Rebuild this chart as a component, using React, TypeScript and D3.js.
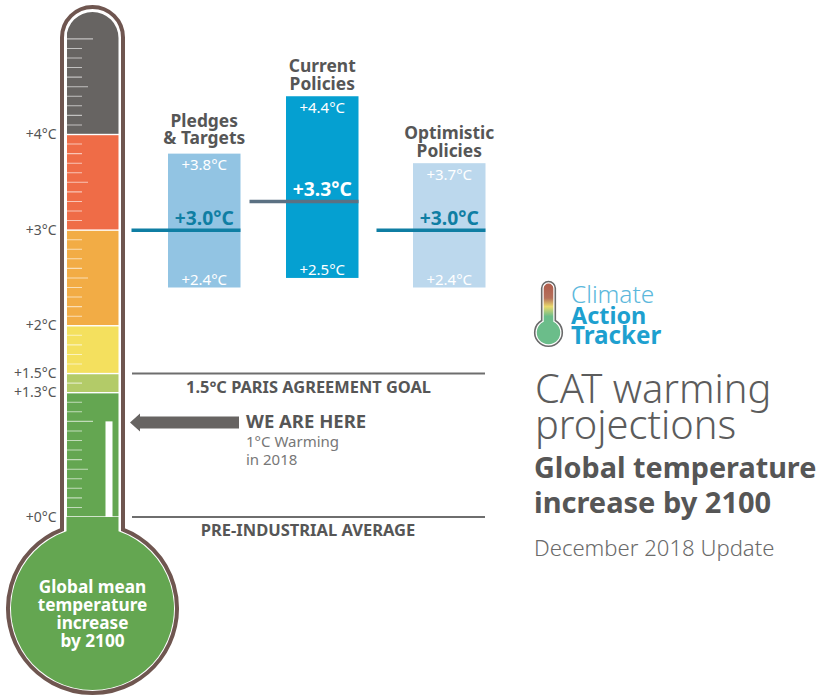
import { useRef, useEffect } from "react"
import * as d3 from "d3"

const scenarios = ["Pledges & Targets", "Current Policies", "Optimistic Policies"]
const scenarioTitle = [["Pledges", "& Targets"], ["Current", "Policies"], ["Optimistic", "Policies"]]
const highs = [3.8, 4.4, 3.7]
const mids = [3.0, 3.3, 3.0]
const lows = [2.4, 2.5, 2.4]
const barColors = ["#92c4e3", "#05a0d1", "#bcd8ed"]
const midTextColors = ["#0f7ea3", "#ffffff", "#0f7ea3"]
const midLineColors = ["#0f7ea3", "#5b7183", "#0f7ea3"]

const bandEdges = [5.3, 4, 3, 2, 1.5, 1.3, 0]
const bandColors = ["#676462", "#ef6c47", "#f2ac45", "#f4e05e", "#b3cb68", "#64a651"]
const axisLabels = [4, 3, 2, 1.5, 1.3, 0]

const longTicks = [5, 1]
const mediumTicks = [4.5, 3.5, 2.5, 0.5]
const shortTicks = [
  4.9, 4.8, 4.7, 4.6, 4.4, 4.3, 4.2, 4.1, 3.9, 3.8, 3.7, 3.6, 3.4, 3.3, 3.2, 3.1, 2.9, 2.8, 2.7, 2.6, 2.4, 2.3, 2.2,
  2.1, 1.9, 1.8, 1.7, 1.6, 1.4, 1.2, 1.1, 0.9, 0.8, 0.7, 0.6, 0.4, 0.3, 0.2, 0.1,
]

const currentWarming = 1
const parisGoal = 1.5
const preIndustrial = 0

const FONT = "'Noto Sans', sans-serif"
const DARK = "#565656"

export default function App() {
  const svgRef = useRef<SVGSVGElement | null>(null)

  useEffect(() => {
    if (!svgRef.current) return
    const svg = d3.select(svgRef.current)
    svg.selectAll("*").remove()

    const y = d3.scaleLinear().domain([0, 4]).range([517, 134.5])
    const barX = d3.scaleOrdinal<string, number>().domain(scenarios).range([168, 286, 413])
    const titleLift = d3.scaleOrdinal<string, number>().domain(scenarios).range([27, 24, 24])
    const barWidth = 72.5

    const label = (
      x: number,
      yy: number,
      t: string,
      size: number,
      fill: string,
      weight = 400,
      anchor = "start",
    ) =>
      svg
        .append("text")
        .attr("x", x)
        .attr("y", yy)
        .attr("font-family", FONT)
        .attr("font-size", size)
        .attr("font-weight", weight)
        .attr("fill", fill)
        .attr("text-anchor", anchor)
        .text(t)

    // Thermometer outline
    const cx = 92.5
    const cy = 608.5
    const shape = (halfWidth: number, top: number, r: number) => {
      const dy = Math.sqrt(r * r - halfWidth * halfWidth)
      const path = d3.path()
      path.moveTo(cx - halfWidth, top + halfWidth)
      path.arc(cx, top + halfWidth, halfWidth, Math.PI, 0)
      path.lineTo(cx + halfWidth, cy - dy)
      path.arc(cx, cy, r, Math.atan2(-dy, halfWidth), Math.atan2(-dy, -halfWidth))
      path.closePath()
      return path.toString()
    }

    svg.append("path").attr("d", shape(30.5, 7, 84.5)).attr("fill", "#fff").attr("stroke", "#6f5650").attr("stroke-width", 4)

    const defs = svg.append("defs")
    defs.append("clipPath").attr("id", "tube").append("path").attr("d", shape(26, 12, 81.5))

    const tube = svg.append("g").attr("clip-path", "url(#tube)")
    tube.append("rect").attr("x", 0).attr("y", y(0)).attr("width", 190).attr("height", 179).attr("fill", "#64a651")

    // Colour bands
    tube
      .selectAll(".band")
      .data(bandColors)
      .enter()
      .append("rect")
      .attr("x", 67)
      .attr("width", 52)
      .attr("y", (_, i) => y(bandEdges[i]) + 0.7)
      .attr("height", (_, i) => y(bandEdges[i + 1]) - y(bandEdges[i]) - 1.4)
      .attr("fill", (d) => d)

    // White column for the current level
    tube
      .append("rect")
      .attr("x", 105.5)
      .attr("width", 7)
      .attr("y", y(currentWarming))
      .attr("height", y(0) - y(currentWarming))
      .attr("fill", "#fff")

    // Scale ticks
    const ticks = (values: number[], len: number) =>
      tube
        .selectAll(null)
        .data(values)
        .enter()
        .append("line")
        .attr("x1", 67)
        .attr("x2", 67 + len)
        .attr("y1", (d) => y(d))
        .attr("y2", (d) => y(d))
        .attr("stroke", "#fff")
        .attr("stroke-opacity", 0.6)
        .attr("stroke-width", 1.1)
    ticks(longTicks, 26)
    ticks(mediumTicks, 21)
    ticks(shortTicks, 15)

    // Axis labels
    axisLabels.forEach((d) => {
      label(56.5, y(d) + 4.5, `+${d}°C`, 14, "#555", 400, "end")
    })

    // Bulb text
    ;["Global mean", "temperature", "increase", "by 2100"].forEach((t, i) => {
      label(cx, 593 + i * 18, t, 17.2, "#fff", 700, "middle")
    })

    // Reference lines
    ;[parisGoal, preIndustrial].forEach((d) => {
      svg
        .append("line")
        .attr("x1", 132)
        .attr("x2", 485)
        .attr("y1", y(d))
        .attr("y2", y(d))
        .attr("stroke", "#6e6e6e")
        .attr("stroke-width", 2)
    })
    label(308.5, y(parisGoal) + 19.5, "1.5°C PARIS AGREEMENT GOAL", 16.4, DARK, 700, "middle")
    label(308, y(preIndustrial) + 19, "PRE-INDUSTRIAL AVERAGE", 16.5, DARK, 700, "middle")

    // We are here arrow
    const arrowY = y(currentWarming) + 1
    svg
      .append("path")
      .attr(
        "d",
        d3.line()([
          [130, arrowY],
          [140, arrowY - 9],
          [140, arrowY - 6],
          [239, arrowY - 6],
          [239, arrowY + 6],
          [140, arrowY + 6],
          [140, arrowY + 9],
        ]) + "Z",
      )
      .attr("fill", "#676462")
    label(246, 428, "WE ARE HERE", 18.5, DARK, 700)
    label(246, 447, "1°C Warming", 15, "#777", 400)
    label(246, 465, "in 2018", 15, "#777", 400)

    // Scenario bars
    scenarios.forEach((name, i) => {
      const x = barX(name)
      const mid = x + barWidth / 2
      svg
        .append("rect")
        .attr("x", x)
        .attr("y", y(highs[i]))
        .attr("width", barWidth)
        .attr("height", y(lows[i]) - y(highs[i]))
        .attr("fill", barColors[i])
      svg
        .append("line")
        .attr("x1", x + barWidth - 109)
        .attr("x2", x + barWidth)
        .attr("y1", y(mids[i]))
        .attr("y2", y(mids[i]))
        .attr("stroke", midLineColors[i])
        .attr("stroke-width", 3.5)
      label(mid, y(highs[i]) + 16.5, `+${highs[i].toFixed(1)}°C`, 15, "#fff", 400, "middle")
      label(mid, y(lows[i]) - 3, `+${lows[i].toFixed(1)}°C`, 15, "#fff", 400, "middle")
      label(mid, y(mids[i]) - 5, `+${mids[i].toFixed(1)}°C`, 19.3, midTextColors[i], 700, "middle")
      scenarioTitle[i].forEach((t, k) => {
        label(mid, y(highs[i]) - titleLift(name) + k * 17.7, t, 17.4, DARK, 700, "middle")
      })
    })

    // Logo
    const logo = defs.append("linearGradient").attr("id", "logoFill").attr("x1", 0).attr("y1", 0).attr("x2", 0).attr("y2", 1)
    logo.append("stop").attr("offset", "6%").attr("stop-color", "#b0604f")
    logo.append("stop").attr("offset", "24%").attr("stop-color", "#b5705a")
    logo.append("stop").attr("offset", "38%").attr("stop-color", "#e9d96c")
    logo.append("stop").attr("offset", "54%").attr("stop-color", "#6bbd8a")
    logo.append("stop").attr("offset", "100%").attr("stop-color", "#6bbd8a")
    const logoShape = (hw: number, top: number, r: number) => {
      const lcx = 548.5
      const lcy = 332.5
      const dy = Math.sqrt(r * r - hw * hw)
      const path = d3.path()
      path.moveTo(lcx - hw, top + hw)
      path.arc(lcx, top + hw, hw, Math.PI, 0)
      path.lineTo(lcx + hw, lcy - dy)
      path.arc(lcx, lcy, r, Math.atan2(-dy, hw), Math.atan2(-dy, -hw))
      path.closePath()
      return path.toString()
    }
    svg.append("path").attr("d", logoShape(6.8, 281.5, 13.8)).attr("fill", "#fff").attr("stroke", "#6a6a6a").attr("stroke-width", 1.6)
    svg.append("path").attr("d", logoShape(4.8, 283.5, 11.8)).attr("fill", "url(#logoFill)")
    label(571, 303, "Climate", 24.4, "#5cb8dc", 300)
    label(571, 324, "Action", 23.4, "#1ea0cf", 700)
    label(571, 344, "Tracker", 24.2, "#1ea0cf", 700)

    // Title block
    label(535, 403, "CAT warming", 39.8, "#5c5c5c", 300)
    label(535, 439, "projections", 39.8, "#5c5c5c", 300)
    label(534, 478, "Global temperature", 28.8, DARK, 700)
    label(534, 513, "increase by 2100", 29, DARK, 700)
    label(534, 556, "December 2018 Update", 22.1, "#6a6a6a", 300)
  }, [])

  return <svg ref={svgRef} width={819} height={696} style={{ position: "absolute", left: 0, top: 0 }}></svg>
}
